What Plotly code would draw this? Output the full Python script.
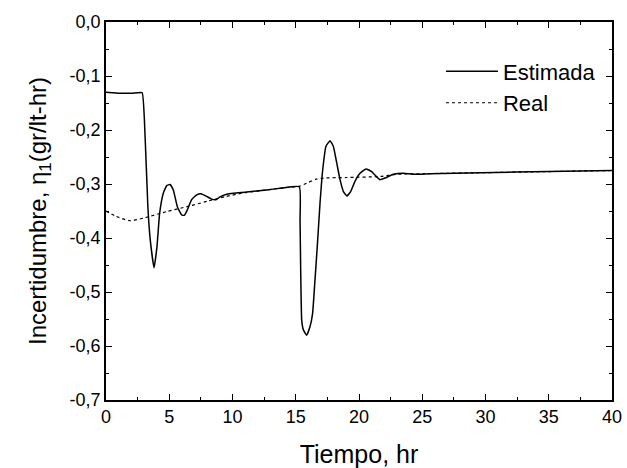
import plotly.graph_objects as go

# Estimada (solid)
est_x = [0, 0.5, 1, 1.5, 2, 2.5, 2.86, 3.10, 3.31, 3.50, 3.80, 4.03, 4.24, 4.53, 4.80, 5.06, 5.32, 5.64, 5.98,
         6.19, 6.43, 6.77, 7.17, 7.51, 7.96, 8.35, 8.70, 9.01, 9.54, 10.07, 11.12, 12.70, 13.75, 15.28,
         15.34, 15.39, 15.47, 15.60, 15.86, 16.13, 16.33, 16.52, 16.70, 16.92, 17.13, 17.39, 17.71, 17.97,
         18.24, 18.50, 18.77, 19.04, 19.34, 19.68, 20.08, 20.55, 21.00, 21.40, 21.66, 22.06, 22.71, 23.50,
         24.29, 25.61, 29.57, 35, 40]
est_y = [-0.130, -0.131, -0.132, -0.132, -0.132, -0.131, -0.131, -0.218, -0.342, -0.404, -0.455, -0.416, -0.354,
         -0.317, -0.303, -0.301, -0.311, -0.342, -0.357, -0.358, -0.348, -0.329, -0.320, -0.318, -0.323, -0.328,
         -0.329, -0.324, -0.319, -0.317, -0.315, -0.311, -0.308, -0.305,
         -0.366, -0.459, -0.552, -0.570, -0.580, -0.564, -0.540, -0.478, -0.416, -0.335, -0.274, -0.230, -0.220,
         -0.230, -0.261, -0.292, -0.314, -0.322, -0.314, -0.295, -0.280, -0.272, -0.277, -0.287, -0.292, -0.289,
         -0.282, -0.280, -0.282, -0.281, -0.279, -0.277, -0.275]

# Real (dotted)
real_x = [0, 0.8, 1.9, 3.0, 4.8, 6.4, 8.0, 9.5, 11, 12.7, 14, 15.3, 16.0, 16.6, 17.2, 19, 21.7, 23, 25, 30, 35, 40]
real_y = [-0.350, -0.360, -0.368, -0.363, -0.351, -0.342, -0.332, -0.323, -0.316, -0.311, -0.307, -0.304,
          -0.297, -0.291, -0.289, -0.288, -0.286, -0.282, -0.281, -0.279, -0.277, -0.275]

x_ticks = [0, 5, 10, 15, 20, 25, 30, 35, 40]
x_labels = ["0", "5", "10", "15", "20", "25", "30", "35", "40"]
y_ticks = [0.0, -0.1, -0.2, -0.3, -0.4, -0.5, -0.6, -0.7]
y_labels = ["0,0", "-0,1", "-0,2", "-0,3", "-0,4", "-0,5", "-0,6", "-0,7"]

FONT = "Liberation Sans, Arial, sans-serif"

fig = go.Figure()
fig.add_trace(go.Scatter(x=est_x, y=est_y, mode="lines", name="Estimada",
                         line=dict(color="black", width=1.5, shape="spline", smoothing=0.4)))
fig.add_trace(go.Scatter(x=real_x, y=real_y, mode="lines", name="Real",
                         line=dict(color="black", width=1.2, dash="dot", shape="spline", smoothing=0.6)))

axis_common = dict(showline=True, linecolor="black", linewidth=1.5, mirror="ticks",
                   ticks="inside", ticklen=6, tickwidth=1.2, tickcolor="black",
                   showgrid=False, zeroline=False, automargin=False,
                   tickfont=dict(family=FONT, size=18, color="black"))

fig.update_xaxes(range=[0, 40], tickvals=x_ticks, ticktext=x_labels,
                 minor=dict(ticks="inside", ticklen=3, dtick=2.5, tick0=0, tickcolor="black"),
                 title=dict(text="Tiempo, hr", font=dict(family=FONT, size=25, color="black"), standoff=20),
                 **axis_common)
fig.update_yaxes(range=[-0.7, 0.0], tickvals=y_ticks, ticktext=y_labels,
                 minor=dict(ticks="inside", ticklen=3, dtick=0.05, tick0=0, tickcolor="black"),
                 title=dict(text="Incertidumbre, η<sub>1</sub>(gr/lt-hr)",
                            font=dict(family=FONT, size=24, color="black"), standoff=16),
                 **axis_common)

fig.update_layout(width=627, height=468, margin=dict(l=106, r=15, t=22, b=68),
                  paper_bgcolor="white", plot_bgcolor="white",
                  font=dict(family=FONT, color="black"),
                  legend=dict(x=0.662, y=0.925, xanchor="left", yanchor="top",
                              bgcolor="rgba(0,0,0,0)", font=dict(family=FONT, size=22, color="black"),
                              itemwidth=52))

fig.write_html("out.html")
